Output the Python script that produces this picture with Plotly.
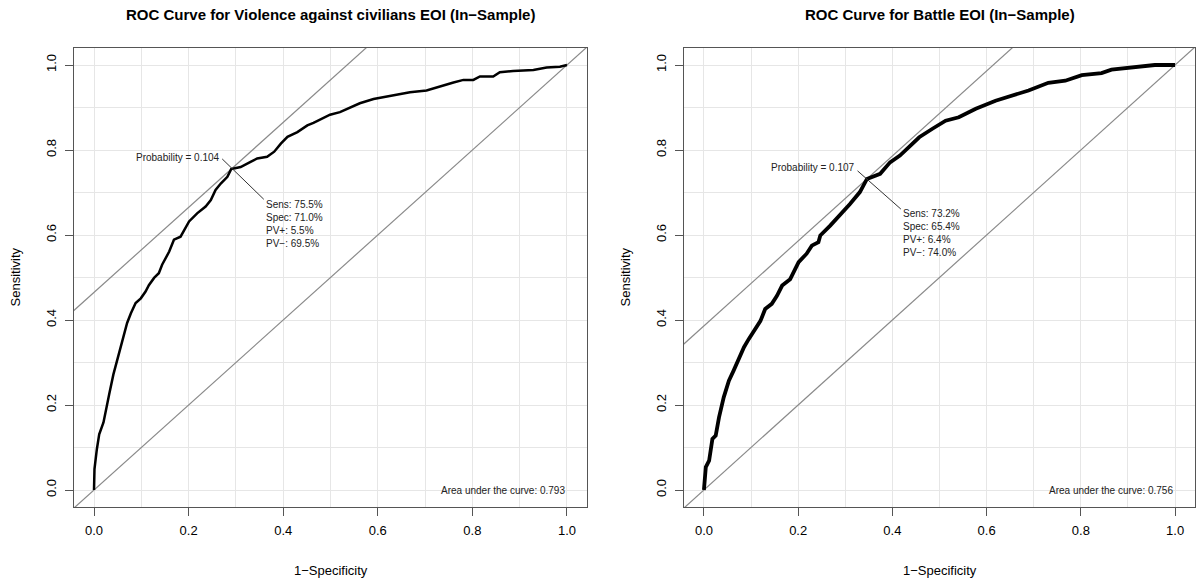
import plotly.graph_objects as go

# ---- Data ----
viol_fpr = [0, 0.001, 0.006, 0.011, 0.020, 0.026, 0.032, 0.041, 0.049, 0.060, 0.070, 0.078, 0.088,
            0.099, 0.109, 0.116, 0.127, 0.137, 0.144, 0.159, 0.169, 0.183, 0.201, 0.218, 0.236,
            0.247, 0.257, 0.268, 0.282, 0.290, 0.310, 0.331, 0.345, 0.366, 0.381, 0.395, 0.409,
            0.430, 0.451, 0.464, 0.479, 0.499, 0.520, 0.562, 0.591, 0.633, 0.668, 0.703, 0.731,
            0.760, 0.781, 0.802, 0.816, 0.844, 0.858, 0.886, 0.929, 0.957, 0.985, 1.0]
viol_tpr = [0, 0.049, 0.096, 0.131, 0.159, 0.197, 0.225, 0.272, 0.307, 0.350, 0.393, 0.416, 0.440,
            0.451, 0.467, 0.482, 0.499, 0.510, 0.530, 0.561, 0.589, 0.596, 0.632, 0.651, 0.667,
            0.682, 0.706, 0.721, 0.737, 0.755, 0.760, 0.772, 0.780, 0.784, 0.796, 0.815, 0.831,
            0.842, 0.858, 0.864, 0.873, 0.883, 0.889, 0.910, 0.920, 0.928, 0.936, 0.940, 0.950,
            0.959, 0.965, 0.965, 0.973, 0.973, 0.983, 0.986, 0.988, 0.994, 0.996, 1.0]

battle_fpr = [0, 0.004, 0.011, 0.018, 0.025, 0.032, 0.042, 0.053, 0.063, 0.070, 0.081, 0.085, 0.095,
              0.106, 0.120, 0.130, 0.144, 0.155, 0.166, 0.183, 0.201, 0.218, 0.229, 0.243, 0.247,
              0.268, 0.289, 0.310, 0.331, 0.346, 0.374, 0.395, 0.416, 0.436, 0.457, 0.485, 0.513,
              0.541, 0.577, 0.619, 0.654, 0.689, 0.731, 0.767, 0.802, 0.844, 0.865, 0.901, 0.957, 1.0]
battle_tpr = [0, 0.054, 0.069, 0.120, 0.128, 0.171, 0.218, 0.257, 0.281, 0.300, 0.324, 0.336, 0.355,
              0.375, 0.398, 0.426, 0.438, 0.457, 0.481, 0.496, 0.536, 0.556, 0.575, 0.583, 0.599,
              0.622, 0.646, 0.673, 0.701, 0.732, 0.744, 0.771, 0.787, 0.807, 0.830, 0.850, 0.869,
              0.877, 0.897, 0.916, 0.929, 0.940, 0.958, 0.963, 0.976, 0.981, 0.989, 0.993, 1.0, 1.0]

titles = ["ROC Curve for Violence against civilians EOI (In\u2212Sample)",
          "ROC Curve for Battle EOI (In\u2212Sample)"]
thresholds = [0.104, 0.107]
sens = [75.5, 73.2]
spec = [71.0, 65.4]
ppv = [5.5, 6.4]
npv = [69.5, 74.0]
auc = [0.793, 0.756]

FONT = "Liberation Sans, Arial, sans-serif"
GRAY = "#8a8a8a"
GRID = "#e6e6e6"

fig = go.Figure()

W, H = 1197, 579
ML, MR, MT, MB = 74, 2, 48, 72
PW = W - ML - MR
PH = H - MT - MB
domains = [[0, 513 / PW], [610 / PW, 1]]
curves = [(viol_fpr, viol_tpr, 2.5), (battle_fpr, battle_tpr, 3.8)]

# annotation positions (data units) for each panel
lab_pos = [
    dict(prob=(0.270, 0.782), line=((0.271, 0.779), (0.359, 0.684)), box=(0.359, 0.690)),
    dict(prob=(0.325, 0.760), line=((0.326, 0.751), (0.418, 0.661)), box=(0.418, 0.668)),
]

for i in range(2):
    xa = "x" if i == 0 else "x2"
    ya = "y" if i == 0 else "y2"
    fpr, tpr, lw = curves[i]
    # chance diagonal
    fig.add_trace(go.Scatter(x=[-0.1, 1.1], y=[-0.1, 1.1], mode="lines",
                             line=dict(color=GRAY, width=1.2), xaxis=xa, yaxis=ya,
                             showlegend=False, hoverinfo="skip"))
    # tangent line through the optimal cut-off (slope 1)
    ox, oy = 1 - spec[i] / 100, sens[i] / 100
    fig.add_trace(go.Scatter(x=[-0.1, 1.1], y=[oy - ox - 0.1, oy - ox + 1.1], mode="lines",
                             line=dict(color=GRAY, width=1.2), xaxis=xa, yaxis=ya,
                             showlegend=False, hoverinfo="skip"))
    # ROC curve
    fig.add_trace(go.Scatter(x=fpr, y=tpr, mode="lines",
                             line=dict(color="black", width=lw), xaxis=xa, yaxis=ya,
                             showlegend=False))
    p = lab_pos[i]
    fig.add_shape(type="line", xref=xa, yref=ya,
                  x0=p["line"][0][0], y0=p["line"][0][1], x1=p["line"][1][0], y1=p["line"][1][1],
                  line=dict(color="#333333", width=1))
    fig.add_annotation(xref=xa, yref=ya, x=p["prob"][0], y=p["prob"][1],
                       text=f"Probability = {thresholds[i]}", showarrow=False,
                       xanchor="right", yanchor="middle",
                       font=dict(family=FONT, size=10, color="#222"))
    fig.add_annotation(xref=xa, yref=ya, x=p["box"][0], y=p["box"][1],
                       text=(f"Sens: {sens[i]:.1f}%<br>Spec: {spec[i]:.1f}%<br>"
                             f"PV+: {ppv[i]:.1f}%<br>PV\u2212: {npv[i]:.1f}%"),
                       showarrow=False, xanchor="left", yanchor="top", align="left",
                       font=dict(family=FONT, size=10, color="#222"))
    fig.add_annotation(xref=xa, yref=ya, x=1.0, y=0.0,
                       text=f"Area under the curve: {auc[i]}", showarrow=False,
                       xanchor="right", yanchor="middle",
                       font=dict(family=FONT, size=10, color="#222"))
    # titles
    cx = (domains[i][0] + domains[i][1]) / 2
    fig.add_annotation(xref="paper", yref="paper", x=cx, y=1 + (MT - 14) / PH,
                       text=f"<b>{titles[i]}</b>", showarrow=False,
                       xanchor="center", yanchor="middle",
                       font=dict(family=FONT, size=15, color="black"))
    fig.add_annotation(xref="paper", yref="paper", x=cx, y=-(570 - (H - MB)) / PH,
                       text="1\u2212Specificity", showarrow=False,
                       xanchor="center", yanchor="middle",
                       font=dict(family=FONT, size=13, color="black"))
    sx = (15 - ML) / PW if i == 0 else (625 - ML) / PW
    fig.add_annotation(xref="paper", yref="paper", x=sx, y=0.5,
                       text="Sensitivity", showarrow=False, textangle=-90,
                       xanchor="center", yanchor="middle",
                       font=dict(family=FONT, size=13, color="black"))

axis_common = dict(range=[-0.0423, 1.0423], tick0=0, dtick=0.2, showgrid=True, gridcolor=GRID,
                   gridwidth=1, zeroline=False, showline=True, mirror=True, linecolor="#555",
                   linewidth=1, ticks="outside", ticklen=8, tickcolor="#555", tickformat=".1f",
                   tickfont=dict(family=FONT, size=13, color="black"),
                   minor=dict(dtick=0.1, tick0=0, showgrid=True, gridcolor=GRID, ticks=""))
yaxis_common = dict(axis_common)
yaxis_common.update(range=[-0.04, 1.04], tickangle=-90, ticklabelstandoff=4)
xaxis_common = dict(axis_common)
xaxis_common.update(ticklabelstandoff=3)

fig.update_layout(
    width=W, height=H,
    margin=dict(l=ML, r=MR, t=MT, b=MB),
    plot_bgcolor="white", paper_bgcolor="white",
    font=dict(family=FONT),
    xaxis=dict(xaxis_common, domain=domains[0], anchor="y"),
    yaxis=dict(yaxis_common, domain=[0, 1], anchor="x"),
    xaxis2=dict(xaxis_common, domain=domains[1], anchor="y2"),
    yaxis2=dict(yaxis_common, domain=[0, 1], anchor="x2"),
)

fig.write_html("out.html", config={"displayModeBar": False},
               post_script="document.body.style.margin='0';document.body.style.overflow='hidden';")
